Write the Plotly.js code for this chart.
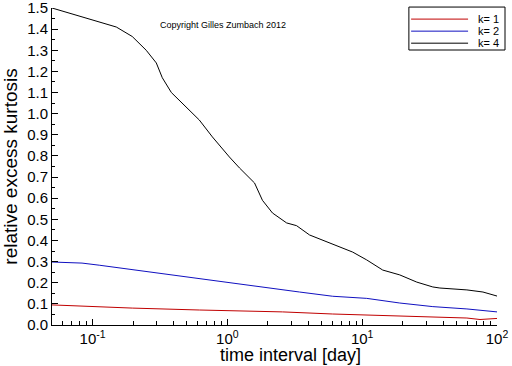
<!DOCTYPE html>
<html>
<head>
<meta charset="utf-8">
<script src="https://cdn.plot.ly/plotly-3.0.1.min.js"></script>
<style>html,body{margin:0;padding:0;background:#fff;}#chart{width:512px;height:366px;}</style>
</head>
<body>
<div id="chart"></div>
<script>
// k = 4 (black)
var xK4 = [0.05, 0.15, 0.197, 0.25, 0.297, 0.329, 0.384, 0.463, 0.549, 0.619, 0.774, 0.872, 1.035, 1.23, 1.59, 1.82, 2.16, 2.75, 3.26, 4.07, 5.09, 6.81, 8.5, 10.8, 14.2, 19.0, 25.4, 33.4, 37.7, 59.8, 78.7, 100];
var yK4 = [1.50, 1.41, 1.365, 1.30, 1.24, 1.17, 1.10, 1.05, 1.00, 0.97, 0.89, 0.85, 0.795, 0.743, 0.672, 0.59, 0.53, 0.483, 0.47, 0.426, 0.402, 0.369, 0.345, 0.308, 0.26, 0.237, 0.203, 0.18, 0.175, 0.166, 0.156, 0.137];
// k = 2 (blue)
var xK2 = [0.05, 0.0835, 0.112, 0.197, 0.352, 0.619, 1.09, 1.95, 3.43, 6.04, 10.8, 19.0, 33.4, 59.8, 100];
var yK2 = [0.298, 0.293, 0.283, 0.262, 0.238, 0.218, 0.199, 0.175, 0.156, 0.136, 0.126, 0.104, 0.087, 0.076, 0.062];
// k = 1 (red)
var xK1 = [0.05, 0.112, 0.197, 0.619, 1.46, 2.56, 6.04, 10.8, 19.0, 33.4, 59.8, 74.8, 100];
var yK1 = [0.095, 0.085, 0.08, 0.071, 0.066, 0.062, 0.052, 0.047, 0.043, 0.038, 0.033, 0.026, 0.031];

var seriesNames = ['k= 1', 'k= 2', 'k= 4'];
var seriesColors = ['#c00000', '#1010c0', '#000000'];
var xTickVals = [0.1, 1, 10, 100];
var xTickText = ['10<sup>-1</sup>', '10<sup>0</sup>', '10<sup>1</sup>', '10<sup>2</sup>'];
var yTickVals = [0, 0.1, 0.2, 0.3, 0.4, 0.5, 0.6, 0.7, 0.8, 0.9, 1.0, 1.1, 1.2, 1.3, 1.4, 1.5];
var yTickText = ['0.0', '0.1', '0.2', '0.3', '0.4', '0.5', '0.6', '0.7', '0.8', '0.9', '1.0', '1.1', '1.2', '1.3', '1.4', '1.5'];

var minorX = [];
[0.01, 0.1, 1, 10].forEach(function (d) {
  for (var m = 2; m <= 9; m++) { var v = m * d; if (v >= 0.05 && v < 100) minorX.push(v); }
});

var traces = [
  {x: xK1, y: yK1, name: seriesNames[0], mode: 'lines', line: {color: seriesColors[0], width: 1}},
  {x: xK2, y: yK2, name: seriesNames[1], mode: 'lines', line: {color: seriesColors[1], width: 1}},
  {x: xK4, y: yK4, name: seriesNames[2], mode: 'lines', line: {color: seriesColors[2], width: 1}}
];

var font = 'Liberation Sans, Arial, sans-serif';

// legend drawn as a boxed key in paper coordinates
var legY = [0.965, 0.927, 0.889];
var shapes = [
  {type: 'rect', xref: 'paper', yref: 'paper', x0: 0.802, x1: 1.018, y0: 0.8675, y1: 1.003,
   line: {color: '#000', width: 1}, fillcolor: '#fff', layer: 'above'}
];
var annotations = [
  {text: 'Copyright Gilles Zumbach 2012', xref: 'paper', yref: 'paper', x: 0.238, y: 0.97,
   showarrow: false, font: {family: font, size: 9, color: '#000'}},
  {text: 'time interval [day]', xref: 'paper', yref: 'paper', x: 0.535, y: -0.096, yanchor: 'middle',
   showarrow: false, font: {family: font, size: 18, color: '#000'}}
];
seriesNames.forEach(function (n, i) {
  shapes.push({type: 'line', xref: 'paper', yref: 'paper', x0: 0.807, x1: 0.935, y0: legY[i], y1: legY[i],
    line: {color: seriesColors[i], width: 1}, layer: 'above'});
  annotations.push({text: n, xref: 'paper', yref: 'paper', x: 0.955, y: legY[i], xanchor: 'left', yanchor: 'middle',
    showarrow: false, font: {family: font, size: 11, color: '#000'}, borderpad: 0});
});

var layout = {
  width: 512, height: 366,
  margin: {l: 52, r: 15, t: 8, b: 41},
  paper_bgcolor: '#fff', plot_bgcolor: '#fff',
  font: {family: font, color: '#000', size: 15},
  showlegend: false,
  xaxis: {
    type: 'log',
    range: [Math.log10(0.05), 2],
    tickmode: 'array', tickvals: xTickVals, ticktext: xTickText,
    ticks: 'inside', ticklen: 6, tickcolor: '#000', tickwidth: 1,
    minor: {tickmode: 'array', tickvals: minorX, ticks: 'inside', ticklen: 4, tickcolor: '#000', showgrid: false},
    showline: true, linecolor: '#000', linewidth: 1,
    showgrid: false, zeroline: false,
    ticklabeloverflow: 'allow',
    tickfont: {family: font, size: 15, color: '#000'}
  },
  yaxis: {
    range: [0, 1.5],
    tickmode: 'array', tickvals: yTickVals, ticktext: yTickText,
    ticks: 'inside', ticklen: 6, tickcolor: '#000', tickwidth: 1,
    minor: {dtick: 0.05, tick0: 0, ticks: 'inside', ticklen: 3, tickcolor: '#000', showgrid: false},
    showline: true, linecolor: '#000', linewidth: 1,
    showgrid: false, zeroline: false,
    ticklabeloverflow: 'allow',
    tickfont: {family: font, size: 15, color: '#000'},
    title: {text: 'relative excess kurtosis', font: {family: font, size: 19, color: '#000'}, standoff: 8}
  },
  shapes: shapes,
  annotations: annotations
};

Plotly.newPlot('chart', traces, layout, {displayModeBar: false, staticPlot: true});
</script>
</body>
</html>
